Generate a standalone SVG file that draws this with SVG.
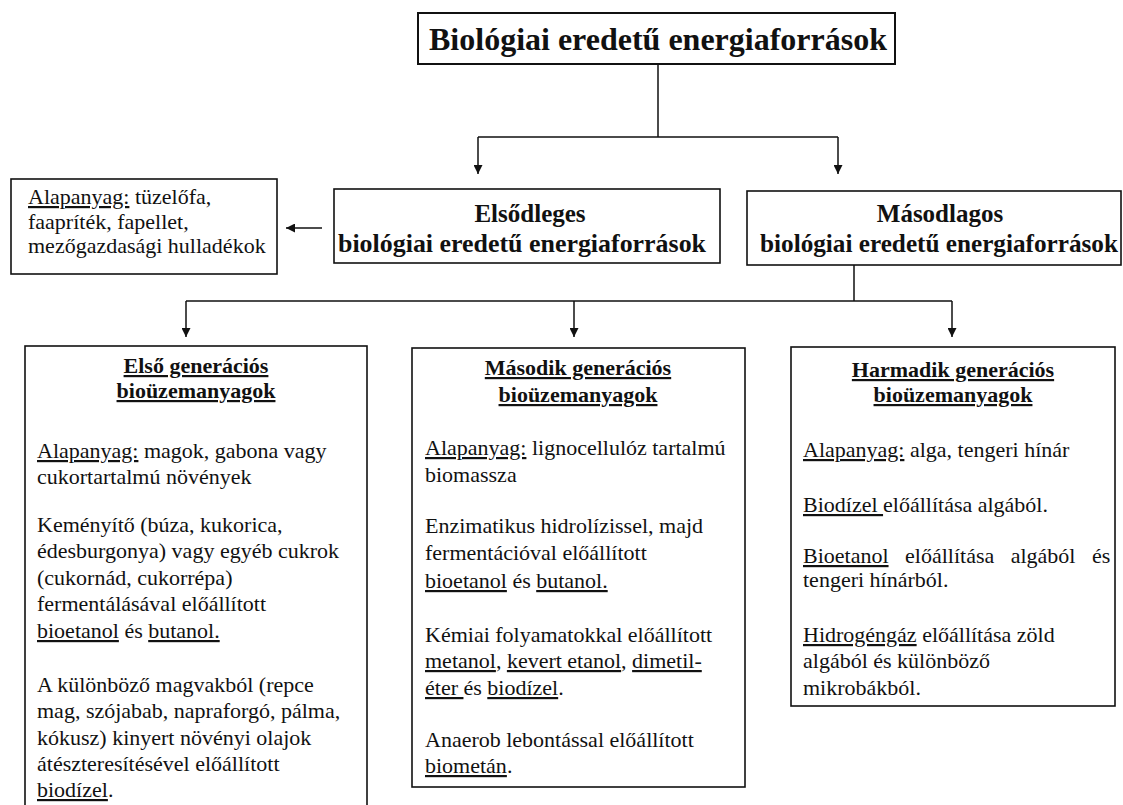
<svg xmlns="http://www.w3.org/2000/svg" width="1123" height="805" viewBox="0 0 1123 805">
<style>
text{font-family:"Liberation Serif","Times New Roman",serif;fill:#111;}
.box{fill:#fff;stroke:#111;stroke-width:1.6;}
.t{font-size:22px;}
.h{font-size:22px;font-weight:bold;text-anchor:middle;text-decoration:underline;}
.m{font-size:25px;font-weight:bold;text-anchor:middle;}
.u{text-decoration:underline;}
.c{fill:none;stroke:#111;stroke-width:1.5;}
</style>
<defs>
<marker id="arr" markerUnits="userSpaceOnUse" markerWidth="9" markerHeight="9" refX="9" refY="4.5" orient="auto">
<path d="M0,0 L9,4.5 L0,9 z" fill="#111"/>
</marker>
</defs>
<rect width="1123" height="805" fill="#fff"/>

<g id="connectors">
<path class="c" d="M658,64 V137 M478,137 H838"/>
<path class="c" d="M478,137 V174" marker-end="url(#arr)"/>
<path class="c" d="M838,137 V174" marker-end="url(#arr)"/>
<path class="c" d="M322,228 H286" marker-end="url(#arr)"/>
<path class="c" d="M854,265 V301 M186,301 H952"/>
<path class="c" d="M186,301 V337" marker-end="url(#arr)"/>
<path class="c" d="M574,301 V337" marker-end="url(#arr)"/>
<path class="c" d="M952,301 V337" marker-end="url(#arr)"/>
</g>

<g id="root">
<rect class="box" x="418" y="13" width="477" height="51" style="stroke-width:2"/>
<text x="658" y="50" font-size="32" font-weight="bold" text-anchor="middle">Biológiai eredetű energiaforrások</text>
</g>

<g id="elsodleges">
<rect class="box" x="334" y="189" width="386" height="74"/>
<text class="m" x="530" y="222">Elsődleges</text>
<text class="m" x="522" y="252" textLength="368" lengthAdjust="spacingAndGlyphs">biológiai eredetű energiaforrások</text>
</g>

<g id="masodlagos">
<rect class="box" x="747" y="191" width="374" height="74"/>
<text class="m" x="940" y="222">Másodlagos</text>
<text class="m" x="939" y="252" textLength="358" lengthAdjust="spacingAndGlyphs">biológiai eredetű energiaforrások</text>
</g>

<g id="alapanyag-elsodleges">
<rect class="box" x="11" y="179" width="266" height="95"/>
<text class="t" x="28" y="204"><tspan class="u">Alapanyag:</tspan> tüzelőfa,</text>
<text class="t" x="28" y="229">faapríték, fapellet,</text>
<text class="t" x="28" y="253">mezőgazdasági hulladékok</text>
</g>

<g id="elso-generacio">
<rect class="box" x="25" y="346" width="342" height="480"/>
<text class="h" x="196" y="373">Első generációs</text>
<text class="h" x="196" y="398">bioüzemanyagok</text>
<text class="t" x="37" y="458"><tspan class="u">Alapanyag:</tspan> magok, gabona vagy</text>
<text class="t" x="37" y="484">cukortartalmú növények</text>
<text class="t" x="37" y="532">Keményítő (búza, kukorica,</text>
<text class="t" x="37" y="558">édesburgonya) vagy egyéb cukrok</text>
<text class="t" x="37" y="585">(cukornád, cukorrépa)</text>
<text class="t" x="37" y="611">fermentálásával előállított</text>
<text class="t" x="37" y="638"><tspan class="u">bioetanol</tspan> és <tspan class="u">butanol.</tspan></text>
<text class="t" x="37" y="692">A különböző magvakból (repce</text>
<text class="t" x="37" y="718">mag, szójabab, napraforgó, pálma,</text>
<text class="t" x="37" y="745">kókusz) kinyert növényi olajok</text>
<text class="t" x="37" y="771">átészteresítésével előállított</text>
<text class="t" x="37" y="797"><tspan class="u">biodízel</tspan>.</text>
</g>

<g id="masodik-generacio">
<rect class="box" x="412" y="348" width="333" height="439"/>
<text class="h" x="578" y="375">Második generációs</text>
<text class="h" x="578" y="402">bioüzemanyagok</text>
<text class="t" x="425" y="455"><tspan class="u">Alapanyag:</tspan> lignocellulóz tartalmú</text>
<text class="t" x="425" y="482">biomassza</text>
<text class="t" x="425" y="533">Enzimatikus hidrolízissel, majd</text>
<text class="t" x="425" y="560">fermentációval előállított</text>
<text class="t" x="425" y="588"><tspan class="u">bioetanol</tspan> és <tspan class="u">butanol.</tspan></text>
<text class="t" x="425" y="642">Kémiai folyamatokkal előállított</text>
<text class="t" x="425" y="668"><tspan class="u">metanol</tspan>, <tspan class="u">kevert etanol</tspan>, <tspan class="u">dimetil-</tspan></text>
<text class="t" x="425" y="695"><tspan class="u">éter </tspan>és <tspan class="u">biodízel</tspan>.</text>
<text class="t" x="425" y="747">Anaerob lebontással előállított</text>
<text class="t" x="425" y="773"><tspan class="u">biometán</tspan>.</text>
</g>

<g id="harmadik-generacio">
<rect class="box" x="791" y="347" width="324" height="359"/>
<text class="h" x="953" y="377">Harmadik generációs</text>
<text class="h" x="953" y="402">bioüzemanyagok</text>
<text class="t" x="803" y="457"><tspan class="u">Alapanyag:</tspan> alga, tengeri hínár</text>
<text class="t" x="803" y="512"><tspan class="u">Biodízel </tspan>előállítása algából.</text>
<text class="t" x="803" y="563" word-spacing="11"><tspan class="u">Bioetanol</tspan> előállítása algából és</text>
<text class="t" x="803" y="587">tengeri hínárból.</text>
<text class="t" x="803" y="642"><tspan class="u">Hidrogéngáz</tspan> előállítása zöld</text>
<text class="t" x="803" y="668">algából és különböző</text>
<text class="t" x="803" y="695">mikrobákból.</text>
</g>
</svg>
